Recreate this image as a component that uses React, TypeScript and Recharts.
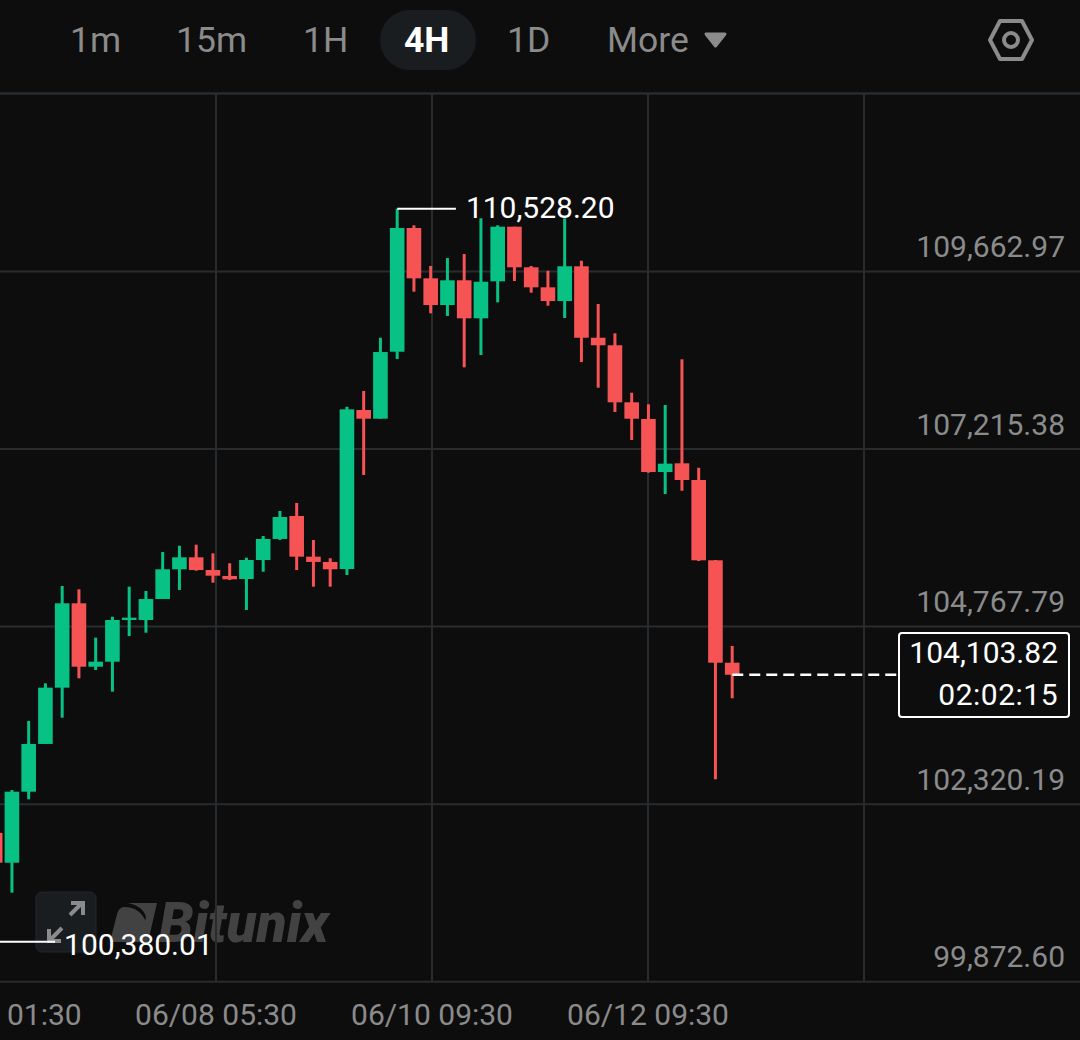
import {
  Bar,
  CartesianGrid,
  ComposedChart,
  ReferenceLine,
  XAxis,
  YAxis,
} from 'recharts';

const GREEN = '#08c285';
const RED = '#f65454';
const BG = '#0d0d0e';
const GRID = '#292c2f';
const MUTED = '#8b8b8b';
const FONT = 'Roboto, sans-serif';

// 4H candles, oldest first
const opens = [
  101923, 101513, 102492, 103150, 103926, 105089, 104215, 104284, 104859, 104859,
  105148, 105558, 105723, 105548, 105466, 105424, 105686, 105976, 106293, 105732,
  105659, 105562, 107754, 107634, 108557, 110263, 109569, 109201, 109542, 109018,
  109528, 110281, 109721, 109445, 109256, 109735, 108750, 108646, 107860, 107630,
  106899, 107019, 106789, 105682, 104270,
];
const closes = [
  101513, 102492, 103150, 103926, 105089, 104215, 104284, 104859, 104891, 105148,
  105558, 105723, 105548, 105470, 105420, 105686, 105976, 106279, 105732, 105659,
  105558, 107763, 107634, 108553, 110263, 109569, 109201, 109542, 109018, 109522,
  110281, 109721, 109445, 109256, 109735, 108750, 108646, 107860, 107634, 106899,
  107014, 106789, 105682, 104270, 104103.82,
];
const highs = [
  102033, 102515, 103467, 103986, 105328, 105282, 104615, 104904, 105318, 105259,
  105796, 105883, 105897, 105778, 105641, 105718, 106017, 106362, 106472, 105962,
  105710, 107799, 108016, 108750, 110528.2, 110300, 109739, 109849, 109904, 110396,
  110300, 110281, 109739, 109674, 110396, 109812, 109215, 108811, 107992, 107832,
  107823, 108453, 106958, 105686, 104501,
];
const lows = [
  101440, 101100, 102387, 103150, 103512, 104055, 104170, 103871, 104638, 104684,
  105148, 105273, 105538, 105373, 105410, 104997, 105525, 105962, 105548, 105318,
  105318, 105479, 106858, 107634, 108457, 109385, 109087, 109050, 108342, 108512,
  109238, 109532, 109371, 109192, 109022, 108415, 108061, 107726, 107340, 106889,
  106596, 106641, 105672, 102663, 103780,
];

const priceTicks = [99872.6, 102320.19, 104767.79, 107215.38, 109662.97];
const timeLabels = ['01:30', '06/08 05:30', '06/10 09:30', '06/12 09:30', ''];
const intervals = ['1m', '15m', '1H', '4H', '1D'];

const PRICE_TOP = 112117;
const HIGH_PRICE = 110528.2;
const LOW_PRICE = 100380.01;
const LOW_LINE = 100425;
const LAST_PRICE = 104103.82;
const COUNTDOWN = '02:02:15';

const data = opens.map((open, i) => ({
  slot: i,
  open,
  close: closes[i],
  high: highs[i],
  low: lows[i],
  range: [lows[i], highs[i]],
}));

const money = (v: number) =>
  v.toLocaleString('en-US', { minimumFractionDigits: 2, maximumFractionDigits: 2 });

const Candle = ({ x, y, width, height, payload }: any) => {
  const { open, close, high, low } = payload;
  const unit = height / (high - low);
  const color = close >= open ? GREEN : RED;
  const top = y + (high - Math.max(open, close)) * unit;
  const bodyHeight = Math.max(Math.abs(open - close) * unit, 2);
  const cx = x + width / 2;
  return (
    <g>
      <rect x={cx - 1.5} y={y} width={3} height={height} fill={color} />
      <rect x={x} y={top} width={width} height={bodyHeight} fill={color} />
    </g>
  );
};

const PriceTick = ({ y, payload }: any) => (
  <text
    x={1065}
    y={y - 25}
    textAnchor="end"
    dominantBaseline="central"
    fill={MUTED}
    fontFamily={FONT}
    fontSize={30}
  >
    {money(payload.value)}
  </text>
);

const TimeTick = ({ x, payload }: any) => (
  <text
    x={payload.value === 0 ? 7 : x}
    y={1014}
    textAnchor={payload.value === 0 ? 'start' : 'middle'}
    dominantBaseline="central"
    fill={MUTED}
    fontFamily={FONT}
    fontSize={30}
  >
    {timeLabels[payload.value]}
  </text>
);

const Header = () => {
  const left = [70, 176, 303, 404, 507];
  return (
    <div style={{ position: 'absolute', left: 0, top: 0, width: 1080, height: 93 }}>
      <div
        style={{
          position: 'absolute',
          left: 380,
          top: 10,
          width: 96,
          height: 60,
          borderRadius: 30,
          background: '#1a1d20',
        }}
      />
      {intervals.map((t, i) => (
        <span
          key={t}
          style={{
            position: 'absolute',
            left: left[i],
            top: 20,
            lineHeight: '40px',
            fontFamily: FONT,
            fontSize: 35.5,
            fontWeight: t === '4H' ? 700 : 400,
            color: t === '4H' ? '#ffffff' : MUTED,
          }}
        >
          {t}
        </span>
      ))}
      <span
        style={{
          position: 'absolute',
          left: 607,
          top: 20,
          lineHeight: '40px',
          fontFamily: FONT,
          fontSize: 35.5,
          color: MUTED,
        }}
      >
        More
      </span>
      <svg width={1080} height={93} style={{ position: 'absolute', left: 0, top: 0 }}>
        <path d="M706 34 L725 34 L715.5 46 Z" fill={MUTED} stroke={MUTED} strokeWidth={3} strokeLinejoin="round" />
        <path
          d="M990 40 L1000 21 L1022 21 L1032 40 L1022 59 L1000 59 Z"
          fill="none"
          stroke={MUTED}
          strokeWidth={4}
          strokeLinejoin="round"
        />
        <circle cx={1011} cy={40} r={7} fill="none" stroke={MUTED} strokeWidth={4} />
      </svg>
    </div>
  );
};

const Watermark = () => (
  <svg width={1080} height={1040} style={{ position: 'absolute', left: 0, top: 0 }}>
    <rect x={36} y={892} width={60} height={60} rx={6} fill="#1a1d20" stroke="#24272a" />
    <path d="M70 915 L82 903 M71 903 L83 903 L83 915" fill="none" stroke={MUTED} strokeWidth={4} />
    <path d="M62 928 L50 940 M49 929 L49 941 L61 941" fill="none" stroke={MUTED} strokeWidth={4} />
    <path d="M128 903 L157 903 L148 942 L140 942 L146 917 Q143 906 128 903 Z" fill="#424242" />
    <path d="M124 907 Q140 907 146 922 L142 942 L110 942 L116 918 Q118 907 124 907 Z" fill="#424242" />
    <text x={159} y={942} fontFamily={FONT} fontSize={55} fontWeight={900} fontStyle="italic" fill="#424242">
      Bitunix
    </text>
  </svg>
);

const LastPriceBox = () => (
  <div
    style={{
      position: 'absolute',
      left: 898,
      top: 632,
      width: 172,
      height: 86,
      boxSizing: 'border-box',
      border: '2px solid #ffffff',
      borderRadius: 4,
      background: BG,
      color: '#ffffff',
      fontFamily: FONT,
      fontSize: 30,
      lineHeight: '42px',
      textAlign: 'right',
      paddingRight: 10,
    }}
  >
    <div style={{ marginTop: -2 }}>{money(LAST_PRICE)}</div>
    <div style={{ letterSpacing: 0.5 }}>{COUNTDOWN}</div>
  </div>
);

export default function App() {
  return (
    <div style={{ position: 'absolute', left: 0, top: 0, width: 1080, height: 1040, background: BG, overflow: 'hidden' }}>
      <Watermark />
      <Header />
      <div style={{ position: 'absolute', left: 0, top: 0 }}>
        <ComposedChart
          width={1080}
          height={1040}
          data={data}
          margin={{ top: 93.5, right: 0, bottom: 0, left: 0 }}
        >
          <CartesianGrid xAxisId="time" stroke={GRID} strokeWidth={2} verticalValues={[1, 2, 3, 4]} />
          <XAxis
            xAxisId="time"
            type="number"
            dataKey="slot"
            domain={[0, 5]}
            ticks={[0, 1, 2, 3, 4]}
            interval={0}
            height={58.3}
            allowDataOverflow
            axisLine={false}
            tickLine={false}
            tick={TimeTick}
          />
          <XAxis
            xAxisId="candle"
            type="number"
            dataKey="slot"
            domain={[0.2836, 64.76]}
            allowDataOverflow
            hide
          />
          <YAxis
            type="number"
            orientation="right"
            mirror
            width={60}
            domain={[priceTicks[0], PRICE_TOP]}
            ticks={priceTicks}
            interval={0}
            axisLine={false}
            tickLine={false}
            tick={PriceTick}
          />
          <ReferenceLine xAxisId="candle" y={PRICE_TOP} stroke={GRID} strokeWidth={2} />
          <Bar
            xAxisId="candle"
            dataKey="range"
            barSize={14.6}
            shape={Candle}
            isAnimationActive={false}
          />
          <ReferenceLine
            xAxisId="candle"
            segment={[
              { x: 24, y: HIGH_PRICE },
              { x: 27.5, y: HIGH_PRICE },
            ]}
            stroke="#ffffff"
            strokeWidth={2}
            label={{
              value: money(HIGH_PRICE),
              position: 'right',
              offset: 10,
              dy: -1,
              fill: '#ffffff',
              fontSize: 30,
              fontFamily: FONT,
            }}
          />
          <ReferenceLine
            xAxisId="candle"
            segment={[
              { x: 0.2836, y: LOW_LINE },
              { x: 3.57, y: LOW_LINE },
            ]}
            stroke="#ffffff"
            strokeWidth={2}
            label={{
              value: money(LOW_PRICE),
              position: 'right',
              offset: 9,
              dy: 3,
              fill: '#ffffff',
              fontSize: 30,
              fontFamily: FONT,
            }}
          />
          <ReferenceLine
            xAxisId="candle"
            segment={[
              { x: 44, y: LAST_PRICE },
              { x: 53.9, y: LAST_PRICE },
            ]}
            stroke="#ffffff"
            strokeWidth={2.5}
            strokeDasharray="11 6"
          />
        </ComposedChart>
      </div>
      <LastPriceBox />
    </div>
  );
}
